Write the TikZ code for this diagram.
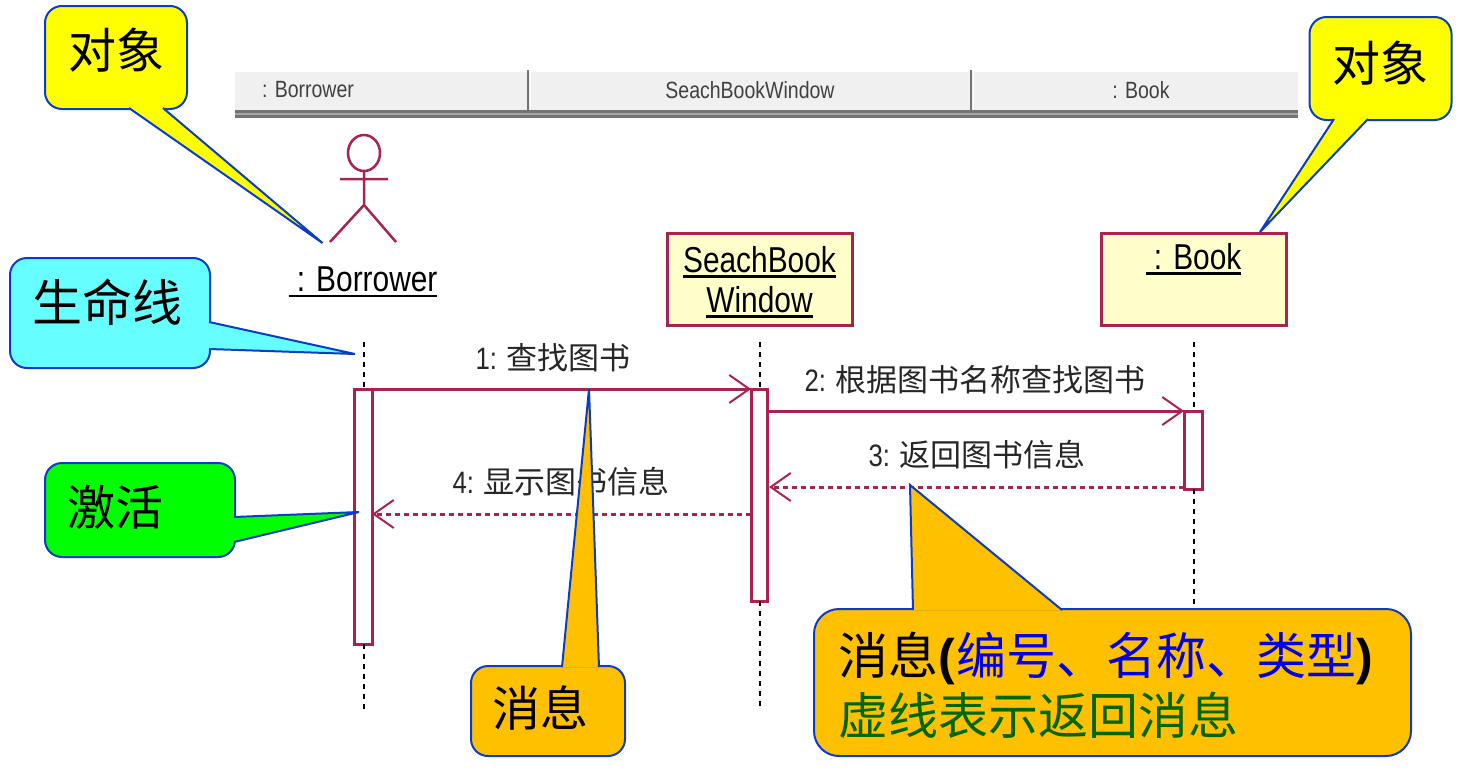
\documentclass[tikz,border=0pt]{standalone}
\usepackage{fontspec}
\usepackage{tikz}
\usetikzlibrary{arrows.meta,calc}
\setmainfont{Liberation Sans}
\newfontfamily\umlfont[FakeStretch=0.83]{Liberation Sans}
\newfontfamily\cjk{Noto Sans CJK SC}
\definecolor{umlred}{HTML}{A8234F}
\definecolor{umlfill}{HTML}{FFFFCC}
\definecolor{noteblue}{HTML}{0B3CC8}
\definecolor{noteorange}{HTML}{FFC000}
\definecolor{notecyan}{HTML}{66FFFF}
\definecolor{noteyellow}{HTML}{FFFF00}
\definecolor{notelime}{HTML}{00FF00}
\definecolor{notegreen}{HTML}{006600}
\definecolor{noteink}{HTML}{0000E6}
\newcommand{\umlul}[1]{\leavevmode\vtop{\hbox{#1}\kern3pt\hrule height 2.5pt}}
\newcommand{\msgtext}[2]{{\umlfont #1 }{\cjk #2}}
\tikzset{
  objbox/.style={draw=umlred,fill=umlfill,line width=3pt,inner sep=0pt,
    minimum width=185pt,minimum height=92pt,align=center,
    font=\fontsize{36}{40}\selectfont\umlfont},
  headtext/.style={inner sep=0pt,font=\fontsize{23.5}{26}\selectfont\umlfont,text=black!75},
  actband/.style={draw=umlred,fill=white,line width=3pt,inner sep=0pt,outer sep=0pt},
  lifeline/.style={black,line width=2.5pt,dash pattern=on 5pt off 5pt},
  msgline/.style={umlred,line width=3pt,-{Straight Barb[length=20pt,width=28pt,line width=2pt]}},
  msgback/.style={msgline,dash pattern=on 5pt off 4pt},
  msglabel/.style={inner sep=0pt,text=black!85,font=\fontsize{31}{34}\selectfont},
  notebox/.style={draw=noteblue,line width=2pt,inner sep=0pt,rounded corners=17pt},
  notetail/.style={draw=noteblue,line width=2pt},
  notetext/.style={inner sep=0pt,align=left,font=\fontsize{48}{60}\selectfont\cjk}
}
\begin{document}
\begin{tikzpicture}[x=1pt,y=-1pt]
  \useasboundingbox (0,0) rectangle (1462,771);

  \fill[black!6] (235,72) rectangle (1298,110);
  \fill[black!55] (235,110) rectangle (1298,118);
  \fill[black!35] (235,113) rectangle (1298,115);
  \draw[black!55,line width=2pt] (528,70) -- (528,111);
  \draw[black!55,line width=2pt] (971,70) -- (971,111);
  \draw[white,line width=1.5pt] (530.5,72) -- (530.5,110);
  \draw[white,line width=1.5pt] (973.5,72) -- (973.5,110);
  \node[headtext] (headborrower) at (308,90) {: Borrower};
  \node[headtext] (headsearch) at (750,90) {SeachBookWindow};
  \node[headtext] (headbook) at (1141,90) {: Book};

  \draw[umlred,line width=2.5pt] (364,153) ellipse (16 and 18);
  \draw[umlred,line width=2.5pt] (364,171) -- (364,205) (340,179) -- (388,179)
    (330,242) -- (364,205) -- (396,242);
  \node[inner sep=0pt,font=\fontsize{36}{40}\selectfont\umlfont] (borrower) at (363,282)
    {\umlul{\ : Borrower}};
  \node[objbox] (searchwin) at (759.5,279) {\rule{0pt}{32pt}\umlul{SeachBook}\\\umlul{Window}};
  \node[objbox] (book) at (1193.5,279) {\rule{0pt}{32pt}\umlul{\ : Book}\\\strut};

  \node[actband,minimum width=18pt,minimum height=255pt] (barborrower) at (363,516.5) {};
  \node[actband,minimum width=16pt,minimum height=212pt] (barsearch) at (759,495) {};
  \node[actband,minimum width=18pt,minimum height=78pt] (barbook) at (1193,450) {};

  \coordinate (lifeA) at (364,342);
  \coordinate (lifeB) at (760,342);
  \coordinate (lifeC) at (1194,342);
  \coordinate (endA) at (364,710);
  \coordinate (endB) at (760,710);
  \coordinate (endC) at (1194,605);
  \coordinate (backrow) at (0,514);
  \draw[lifeline] (lifeA) -- (lifeA |- barborrower.north);
  \draw[lifeline] (lifeA |- barborrower.south) -- (endA);
  \draw[lifeline] (lifeB) -- (lifeB |- barsearch.north);
  \draw[lifeline] (lifeB |- barsearch.south) -- (endB);
  \draw[lifeline] (lifeC) -- (lifeC |- barbook.north);
  \draw[lifeline] (lifeC |- barbook.south) -- (endC);

  \draw[msgline] (barborrower.north east) -- (barsearch.north west);
  \draw[msgline] (barsearch.east |- barbook.north) -- (barbook.north west);
  \draw[msgback,shorten >=2pt] ([yshift=2pt]barbook.south west) -- ([yshift=2pt]barsearch.east |- barbook.south);
  \draw[msgback] (barsearch.west |- backrow) -- (barborrower.east |- backrow);
  \node[msglabel] (msgfind) at (553,358) {\msgtext{1:}{查找图书}};
  \node[msglabel] (msgbyname) at (975,380) {\msgtext{2:}{根据图书名称查找图书}};
  \node[msglabel] (msgreturn) at (977,455) {\msgtext{3:}{返回图书信息}};
  \node[msglabel] (msgshow) at (561,482) {\msgtext{4:}{显示图书信息}};

  \node[notebox,fill=noteyellow,minimum width=142pt,minimum height=103pt] (noteobjA) at (116,57.5) {};
  \coordinate (tipobjA) at (322.5,243);
  \draw[notetail,fill=noteyellow] (129,108) -- (tipobjA) -- (163,108);
  \node[notetext] (textobjA) at (116,50) {对象};

  \node[notebox,fill=noteyellow,minimum width=142pt,minimum height=103pt] (noteobjB) at (1380.5,68.5) {};
  \coordinate (tipobjB) at (1260,232);
  \draw[notetail,fill=noteyellow] (1334,119) -- (tipobjB) -- (1368,119);
  \node[notetext] (textobjB) at (1380,63) {对象};

  \node[notebox,fill=notecyan,minimum width=200pt,minimum height=110pt] (notelife) at (110,313) {};
  \coordinate (tiplife) at (355,354);
  \draw[notetail,fill=notecyan] (209,322) -- (tiplife) -- (209,349);
  \node[notetext,font=\fontsize{50}{60}\selectfont\cjk] (textlife) at (107,302) {生命线};

  \node[notebox,fill=notelime,minimum width=190pt,minimum height=94pt] (noteact) at (140,510) {};
  \coordinate (tipact) at (359,512);
  \draw[notetail,fill=notelime] (234,517) -- (tipact) -- (234,542);
  \node[notetext] (textact) at (115,507) {激活};

  \node[notebox,fill=noteorange,minimum width=154pt,minimum height=90pt] (notemsg) at (548,711) {};
  \coordinate (tipmsg) at (589,389);
  \draw[notetail,fill=noteorange] (562,667) -- (tipmsg) -- (599,667);
  \node[notetext] (textmsg) at (540,708) {消息};

  \node[notebox,fill=noteorange,rounded corners=25pt,minimum width=597pt,minimum height=147pt] (notetype) at (1112.5,682.5) {};
  \coordinate (tiptype) at (910,485);
  \draw[notetail,fill=noteorange] (913,610) -- (tiptype) -- (1062,610);
  \node[notetext,anchor=west,font=\fontsize{50}{60}\selectfont\cjk] (texttype) at (838,685)
    {消息{\rmfamily\bfseries (}\kern2pt\textcolor{noteink}{编号、名称、类型}{\rmfamily\bfseries )}\\
     \textcolor{notegreen}{虚线表示返回消息}};
\end{tikzpicture}
\end{document}
